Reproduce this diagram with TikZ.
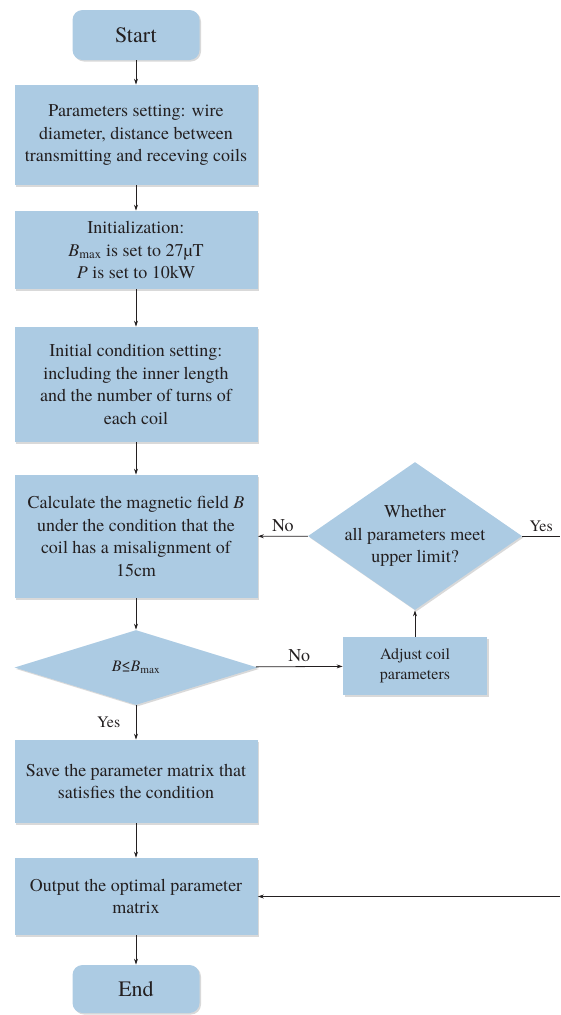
\documentclass[tikz,border=0pt]{standalone}
\usepackage{fontspec}
\setmainfont{texgyretermes}[Extension=.otf,UprightFont=*-regular,ItalicFont=*-italic,BoldFont=*-bold,BoldItalicFont=*-bolditalic]
\usetikzlibrary{shapes.geometric,arrows.meta,shadows}
\definecolor{boxblue}{RGB}{172,203,227}
\definecolor{inkgray}{RGB}{35,31,32}
\begin{document}
\begin{tikzpicture}[x=1pt,y=-1pt,line width=.8pt,draw=inkgray,
  >={Stealth[length=6pt,width=4pt]},
  every node/.style={text=inkgray,font=\fontsize{18}{22.5}\selectfont},
  base/.style={fill=boxblue,drop shadow={shadow xshift=1.5pt,shadow yshift=-1.5pt,opacity=.15,fill=black}},
  process/.style={base,rectangle,minimum width=243pt,align=center,inner sep=0pt},
  terminal/.style={base,rectangle,rounded corners=10pt,minimum width=127pt,font=\fontsize{22}{26}\selectfont},
  decision/.style={base,diamond,inner sep=0pt},
  small/.style={font=\fontsize{16}{19.5}\selectfont}
]
    \useasboundingbox (0,0) rectangle (560,1015);

    \node[terminal,minimum height=50pt] (start) at (136,35) {Start};
    \node[process,minimum height=100pt] (par) at (136,135)
        {Parameters setting: wire\\diameter, distance between\\transmitting and receving coils};
    \node[process,minimum height=78pt] (init) at (136,250)
        {Initialization:\\\textit{B}\textsubscript{max} is set to 27µT\\\textit{P} is set to 10kW};
    \node[process,minimum height=115pt] (cond) at (136,384.5)
        {Initial condition setting:\\including the inner length\\and the number of turns of\\each coil};
    \node[process,minimum height=123pt] (calc) at (136,536.5)
        {Calculate the magnetic field \textit{B}\\under the condition that the\\coil has a misalignment of\\15cm};
    \node[decision,small,minimum width=243pt,minimum height=75pt] (cmp) at (136,667.5)
        {\textit{B}≤\textit{B}\textsubscript{max}};
    \node[process,minimum height=83pt] (save) at (136,781.5)
        {Save the parameter matrix that\\satisfies the condition};
    \node[process,minimum height=77pt] (out) at (136,896.5)
        {Output the optimal parameter\\matrix};
    \node[terminal,minimum height=48pt] (end) at (136,989) {End};

    \node[process,small,minimum width=144pt,minimum height=58pt] (adj) at (415,666)
        {Adjust coil\\parameters};
    \node[decision,minimum width=214pt,minimum height=148pt] (chk) at (415,536) {};
    \node[align=center,inner sep=0pt] (chktxt) at (chk) {Whether\\all parameters meet\\upper limit?};

    \coordinate (rtop) at (560,536);
    \coordinate (rbot) at (560,896.5);

    \draw[->] (start) -- (par);
    \draw[->] (par) -- (init);
    \draw[->] (init) -- (cond);
    \draw[->] (cond) -- (calc);
    \draw[->] (calc) -- (cmp);
    \draw[->] (cmp) -- node[above=1pt]{No} (adj);
    \draw[->] (cmp) -- node[left=12pt,small]{Yes} (save);
    \draw[->] (adj) -- (chk);
    \draw[->] (chk) -- node[above=1pt]{No} (calc);
    \draw (chk.east) -- node[above=1pt,small]{Yes} (rtop);
    \draw[->] (rbot) -- (out);
    \draw[->] (save) -- (out);
    \draw[->] (out) -- (end);
\end{tikzpicture}
\end{document}
